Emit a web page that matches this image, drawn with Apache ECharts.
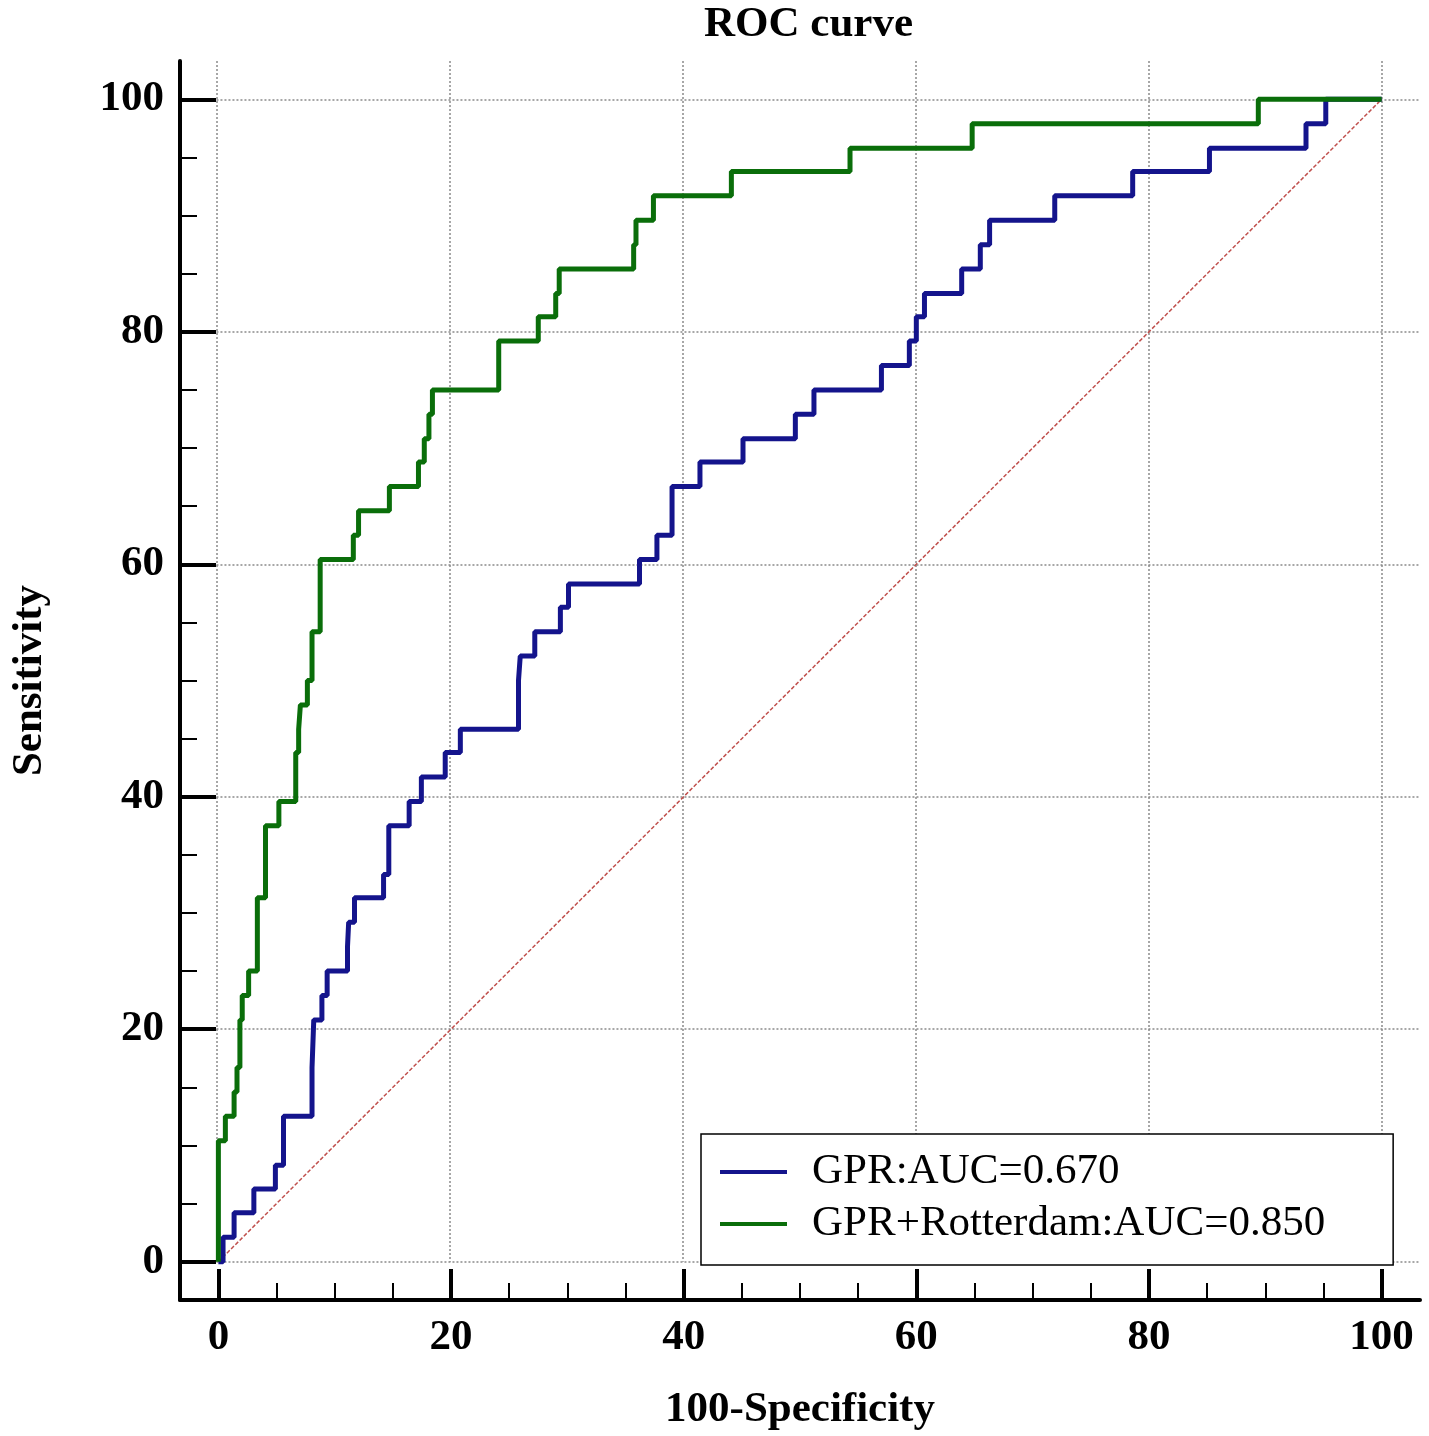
<!DOCTYPE html>
<html>
<head>
<meta charset="utf-8">
<title>ROC curve</title>
<script src="https://cdn.jsdelivr.net/npm/echarts@6/dist/echarts.min.js"></script>
<style>
  html, body { margin: 0; padding: 0; background: #fff; }
  #chart { width: 1429px; height: 1436px; }
</style>
</head>
<body>
<div id="chart"></div>
<script>
// texts
const chartTitle = 'ROC curve'
const xName = '100-Specificity'
const yName = 'Sensitivity'
const legendNames = ['GPR:AUC=0.670', 'GPR+Rotterdam:AUC=0.850']

// ticks
const majorTicks = [0, 20, 40, 60, 80, 100]
const minorTicks = [5, 10, 15, 25, 30, 35, 45, 50, 55, 65, 70, 75, 85, 90, 95]

// GPR curve: corners (100-Specificity, Sensitivity)
const gprX = [0, 0.4, 1.35, 3.05, 4.9, 5.6, 8.05, 8.2, 8.9, 9.35,
  11.1, 11.2, 11.7, 14.2, 14.65, 16.4, 17.45, 19.5, 20.8, 25.8,
  25.95, 27.2, 29.4, 30.1, 36.2, 37.7, 39.0, 41.4, 45.1, 49.6,
  51.2, 57.0, 59.4, 60.0, 60.7, 63.9, 65.5, 66.3, 71.9, 78.6,
  85.2, 93.5, 95.2, 100]
const gprY = [0, 2.1, 4.2, 6.25, 8.3, 12.5, 16.7, 20.8, 22.9, 25.0,
  27.1, 29.2, 31.3, 33.3, 37.5, 39.6, 41.7, 43.8, 45.8, 50.0,
  52.1, 54.2, 56.3, 58.3, 60.4, 62.5, 66.7, 68.8, 70.8, 72.9,
  75.0, 77.1, 79.2, 81.3, 83.3, 85.4, 87.5, 89.6, 91.7, 93.8,
  95.8, 97.9, 100, 100]

// GPR+Rotterdam curve
const comboX = [0, 0, 0.6, 1.35, 1.6, 1.85, 2.05, 2.6, 3.35, 4.05,
  5.2, 6.65, 6.9, 7.05, 7.65, 8.05, 8.75, 11.6, 12.05, 14.7,
  17.2, 17.7, 18.1, 18.4, 24.1, 27.5, 29.0, 29.3, 35.7, 35.9,
  37.4, 44.1, 54.3, 64.8, 89.4, 100]
const comboY = [0, 10.4, 12.5, 14.6, 16.7, 20.8, 22.9, 25.0, 31.3, 37.5,
  39.6, 43.8, 45.8, 47.9, 50.0, 54.2, 60.4, 62.5, 64.6, 66.7,
  68.8, 70.8, 72.9, 75.0, 79.2, 81.3, 83.3, 85.4, 87.5, 89.6,
  91.7, 93.8, 95.8, 97.9, 100, 100]

// reference diagonal
const diagX = [0, 100]
const diagY = [0, 100]

const zip = (xs, ys) => xs.map((x, i) => [x, ys[i]])

// layout
const AX_MIN = -3.3
const AX_MAX = 103.3
const FONT = '"Liberation Serif", "Times New Roman", serif'
const BLUE = '#14148c'
const GREEN = '#0a6e0a'

const main = { left: 178, top: 61, width: 1242, height: 1239 }
const span = AX_MAX - AX_MIN
// inner grid only for the dotted lines, which start at 0
const inner = {
  left: main.left + (0 - AX_MIN) / span * main.width,
  top: main.top,
  width: AX_MAX / span * main.width,
  height: AX_MAX / span * main.height
}

const labelStyle = { fontFamily: FONT, fontSize: 43, fontWeight: 'bold', color: '#000' }

function mainAxis(isX) {
  return {
    type: 'value',
    gridIndex: 0,
    position: isX ? 'bottom' : 'left',
    min: AX_MIN,
    max: AX_MAX,
    name: isX ? xName : yName,
    nameLocation: 'middle',
    nameGap: isX ? 88 : 129,
    nameTextStyle: labelStyle,
    axisLine: { show: true, onZero: false, lineStyle: { color: '#000', width: 4 } },
    axisTick: {
      show: true, inside: true, customValues: majorTicks,
      length: isX ? 31 : 36, lineStyle: { color: '#000', width: 4 }
    },
    axisLabel: {
      show: true, customValues: majorTicks, margin: 16,
      ...labelStyle
    },
    splitLine: { show: false }
  }
}

function minorAxis(isX) {
  return {
    type: 'value',
    gridIndex: 0,
    position: isX ? 'bottom' : 'left',
    min: AX_MIN,
    max: AX_MAX,
    axisLine: { show: false, onZero: false },
    axisTick: {
      show: true, inside: true, customValues: minorTicks,
      length: 17, lineStyle: { color: '#000', width: 2 }
    },
    axisLabel: { show: false },
    splitLine: { show: false }
  }
}

function gridAxis() {
  return {
    type: 'value',
    gridIndex: 1,
    min: 0,
    max: AX_MAX,
    interval: 20,
    axisLine: { show: false },
    axisTick: { show: false },
    axisLabel: { show: false },
    splitLine: {
      show: true, showMaxLine: false,
      lineStyle: { color: '#8a8a8a', width: 1.5, type: [2, 2] }
    }
  }
}

const option = {
  backgroundColor: '#fff',
  animation: false,
  title: {
    text: chartTitle,
    left: 699,
    top: -2,
    textStyle: labelStyle
  },
  grid: [
    { ...main },
    { ...inner }
  ],
  xAxis: [mainAxis(true), minorAxis(true), gridAxis()],
  yAxis: [mainAxis(false), minorAxis(false), gridAxis()],
  legend: {
    data: legendNames,
    orient: 'vertical',
    left: 701,
    top: 1134,
    icon: 'rect',
    itemWidth: 67,
    itemHeight: 4,
    itemGap: 6,
    padding: [15, 68, 18, 19],
    borderColor: '#000',
    borderWidth: 1.5,
    backgroundColor: '#fff',
    selectedMode: false,
    textStyle: { fontFamily: FONT, fontSize: 43, color: '#000', lineHeight: 46, padding: [0, 0, 0, 20] }
  },
  series: [
    {
      type: 'line',
      xAxisIndex: 0,
      yAxisIndex: 0,
      data: zip(diagX, diagY),
      showSymbol: false,
      silent: true,
      lineStyle: { color: '#c0504d', width: 1.5, type: [4, 2] },
      z: 1
    },
    {
      name: legendNames[0],
      type: 'line',
      xAxisIndex: 0,
      yAxisIndex: 0,
      step: 'end',
      data: zip(gprX, gprY),
      showSymbol: false,
      color: BLUE,
      lineStyle: { color: BLUE, width: 5 },
      z: 3
    },
    {
      name: legendNames[1],
      type: 'line',
      xAxisIndex: 0,
      yAxisIndex: 0,
      step: 'end',
      data: zip(comboX, comboY),
      showSymbol: false,
      color: GREEN,
      lineStyle: { color: GREEN, width: 5 },
      z: 4
    }
  ]
}

const chart = echarts.init(document.getElementById('chart'), null, { renderer: 'canvas' })
chart.setOption(option)
</script>
</body>
</html>
